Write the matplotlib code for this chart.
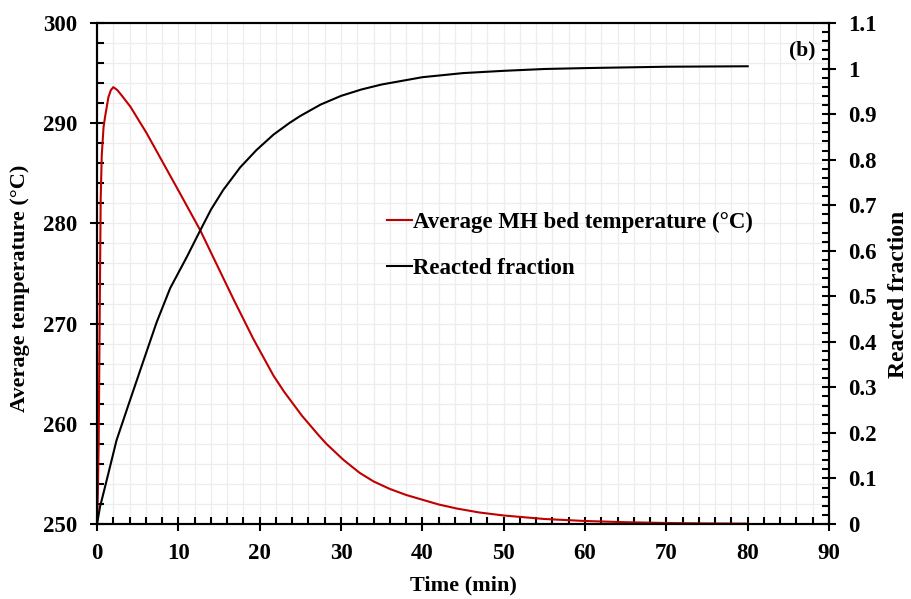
import matplotlib.pyplot as plt
from matplotlib.ticker import MultipleLocator, FuncFormatter
from matplotlib.lines import Line2D

plt.rcParams.update({
    "font.family": "Liberation Serif", "font.weight": "bold",
    "axes.linewidth": 1.5, "axes.labelweight": "bold",
})

RED, BLACK, GRIDC = "#C00000", "#000000", "#EDEDED"

# average MH bed temperature (degC) vs time (min)
t_temp = [0, 0.1, 0.2, 0.3, 0.37, 0.45, 0.58, 0.8, 1.0, 1.4, 1.7, 2.0, 2.5, 3.0,
          4.1, 6.1, 8.15, 10.2, 12.7, 14.3, 16.8, 19.2, 21.7, 23.0, 24.1, 25.2,
          26.2, 27.2, 28.2, 30.3, 32.3, 34.0, 36.0, 38.0, 40.1, 42.0, 44.2, 47.0,
          50.0, 55.0, 60, 65, 70, 75, 80]
temp = [250, 253, 258, 268, 275, 282.5, 286.8, 289.6, 290.7, 292.6, 293.3, 293.6,
        293.3, 292.8, 291.65, 289.0, 286.0, 283.0, 279.3, 276.6, 272.4, 268.5,
        264.8, 263.2, 262.0, 260.8, 259.85, 258.9, 258.0, 256.4, 255.1, 254.25,
        253.5, 252.9, 252.4, 251.95, 251.55, 251.15, 250.85, 250.5, 250.3, 250.18,
        250.1, 250.06, 250.04]

# reacted fraction vs time (min)
t_frac = [0, 0.37, 0.78, 1.6, 2.4, 4.06, 5.7, 7.33, 9.0, 11.0, 12.7, 14.0, 15.5,
          17.6, 19.6, 21.7, 23.7, 25, 27.5, 30, 32.5, 35, 40, 45, 50, 55, 60, 70, 80]
frac = [0, 0.038, 0.067, 0.126, 0.184, 0.272, 0.358, 0.443, 0.518, 0.585, 0.645,
        0.69, 0.733, 0.783, 0.821, 0.855, 0.881, 0.896, 0.921, 0.94, 0.954,
        0.965, 0.981, 0.99, 0.995, 0.999, 1.001, 1.004, 1.005]

fig = plt.figure(figsize=(9.12, 5.99), dpi=100)
ax = fig.add_axes([0.1064, 0.1252, 0.8026, 0.8364])
ax2 = ax.twinx()

ax.plot(t_temp, temp, color=RED, lw=1.5)
ax2.plot(t_frac, frac, color=BLACK, lw=1.5)

ax.set_xlim(0, 90); ax.set_ylim(250, 300)
ax2.set_ylim(0, 1.1)
ax.xaxis.set_major_locator(MultipleLocator(10))
ax.xaxis.set_minor_locator(MultipleLocator(2))
ax.yaxis.set_major_locator(MultipleLocator(10))
ax.yaxis.set_minor_locator(MultipleLocator(2))
ax2.yaxis.set_major_locator(MultipleLocator(0.1))
ax2.yaxis.set_minor_locator(MultipleLocator(0.02))
ax2.yaxis.set_major_formatter(FuncFormatter(lambda v, p: f"{v:g}"))

ax.grid(True, which="both", color=GRIDC, lw=0.9)
ax.set_axisbelow(True)

for a in (ax, ax2):
    a.tick_params(which="major", direction="inout", length=10, width=1.5,
                  labelsize=16.5, pad=9)
    a.tick_params(which="minor", direction="in", length=5, width=1.5)

ax.set_xlabel("Time (min)", fontsize=16, labelpad=8)
ax.set_ylabel("Average temperature (°C)", fontsize=16)
ax.yaxis.set_label_coords(-0.0915, 0.471)
ax2.set_ylabel("Reacted fraction", fontsize=17)
ax2.yaxis.set_label_coords(1.081, 0.459)

ax.text(0.963, 0.946, "(b)", transform=ax.transAxes, ha="center", va="center",
        fontsize=15.5, fontweight="bold")

handles = [Line2D([], [], color=RED, lw=1.5), Line2D([], [], color=BLACK, lw=1.5)]
ax2.legend(handles, ["Average MH bed temperature (°C)", "Reacted fraction"],
           frameon=False, handlelength=1.1, handletextpad=0.05,
           labelspacing=1.1, loc="upper left", bbox_to_anchor=(0.368, 0.665),
           prop={"weight": "bold", "size": 16.5})

fig.savefig("out.png", dpi=100)
